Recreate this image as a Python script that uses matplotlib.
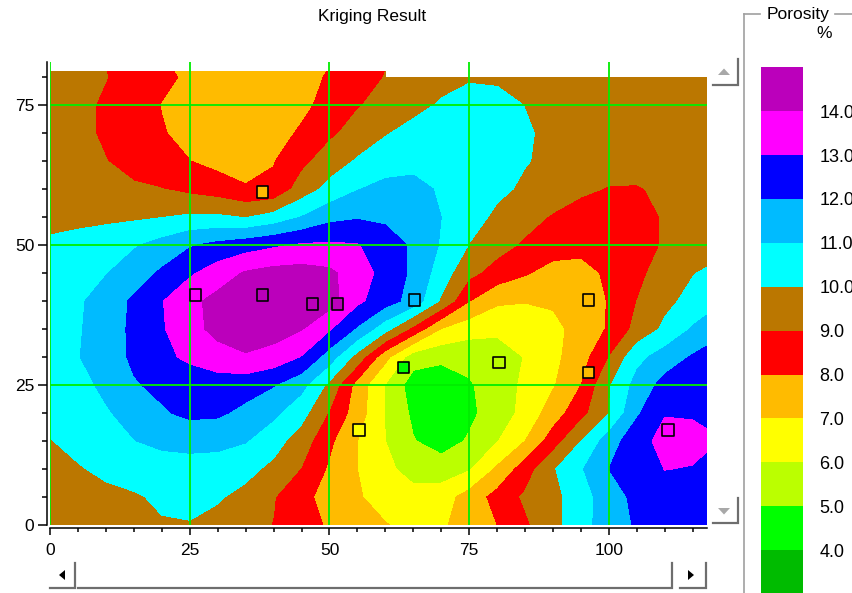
import numpy as np
import matplotlib
matplotlib.use("Agg")
import matplotlib.pyplot as plt
from matplotlib.colors import ListedColormap, BoundaryNorm
from matplotlib.cm import ScalarMappable
from matplotlib.patches import Polygon
from matplotlib.ticker import FixedLocator, FormatStrFormatter

plt.rcParams['font.family'] = ['Liberation Sans', 'DejaVu Sans']

# ---------------- data ----------------
x_nodes = [0, 5, 10, 15, 20, 25, 30, 35, 40, 45, 50, 55, 60, 65, 70, 75,
           80, 85, 90, 95, 100, 105, 110, 115, 117.5]
y_nodes = [0, 5, 10, 15, 20, 25, 30, 35, 40, 45, 50, 55, 60, 65, 70, 75, 80, 81]

nan = np.nan
porosity_rows = [
    [9.1, 9.25, 9.5, 9.75, 9.92, 9.95, 9.7, 9.35, 8.97, 8.4, 7.88, 7.45, 7.05, 6.75, 6.85, 7.45, 8.0, 8.83, 9.7, 10.6, 11.55, 12.1, 12.3, 12.3, 12.35],
    [9.25, 9.45, 9.7, 9.9, 10.15, 10.25, 10.1, 9.7, 9.05, 8.3, 7.6, 7.1, 6.6, 6.35, 6.55, 7.4, 8.35, 9.15, 9.7, 10.55, 11.55, 12.25, 12.5, 12.4, 12.4],
    [9.45, 9.9, 10.25, 10.4, 10.5, 10.55, 10.5, 10.3, 9.75, 8.95, 7.85, 7.0, 6.25, 5.6, 5.45, 5.9, 7.15, 8.5, 9.9, 10.9, 12.0, 12.5, 13.02, 12.95, 12.75],
    [9.95, 10.35, 10.65, 10.97, 11.25, 11.35, 11.3, 11.05, 10.4, 9.5, 8.2, 7.0, 6.0, 5.05, 4.6, 5.1, 5.95, 7.0, 8.5, 10.0, 11.5, 12.65, 13.3, 13.3, 13.15],
    [10.3, 10.55, 10.9, 11.35, 11.9, 12.2, 12.15, 11.75, 11.2, 10.35, 8.9, 7.5, 5.95, 4.8, 4.5, 4.8, 5.45, 6.3, 7.5, 8.65, 10.0, 11.85, 12.95, 12.9, 12.8],
    [10.5, 10.7, 11.2, 11.92, 12.2, 12.4, 12.5, 12.4, 12.05, 11.3, 9.75, 7.6, 5.95, 4.5, 4.3, 4.9, 5.45, 6.2, 6.9, 8.0, 9.9, 11.35, 12.35, 12.65, 12.75],
    [10.75, 10.95, 11.55, 12.15, 12.75, 13.2, 13.6, 13.9, 13.6, 12.95, 11.5, 9.6, 7.3, 5.45, 5.25, 5.3, 5.4, 6.05, 6.75, 7.55, 9.0, 10.7, 11.45, 12.1, 12.35],
    [10.65, 10.9, 11.5, 12.2, 12.9, 13.65, 14.3, 14.55, 14.45, 14.05, 13.1, 11.85, 10.35, 8.7, 6.95, 6.4, 6.25, 6.35, 6.7, 7.4, 8.1, 9.3, 10.2, 11.1, 11.45],
    [10.6, 10.85, 11.45, 12.15, 12.95, 13.75, 14.3, 14.55, 14.6, 14.5, 14.4, 13.2, 12.45, 11.6, 9.85, 8.02, 7.15, 7.05, 7.15, 7.5, 8.05, 9.0, 9.75, 10.3, 10.55],
    [10.45, 10.7, 10.95, 11.5, 12.15, 12.85, 13.5, 14.1, 14.35, 14.4, 14.2, 13.5, 12.65, 11.8, 10.5, 9.25, 8.6, 8.1, 7.6, 7.6, 8.2, 8.8, 9.35, 9.95, 10.15],
    [10.25, 10.45, 10.65, 10.9, 11.35, 11.9, 12.25, 12.55, 12.85, 13.1, 13.15, 13.05, 12.5, 11.85, 10.9, 9.97, 9.35, 8.85, 8.5, 8.35, 8.3, 8.55, 9.1, 9.3, 9.4],
    [9.55, 9.65, 9.75, 9.85, 9.97, 10.15, 10.15, 9.95, 10.35, 11.02, 11.7, 11.9, 11.8, 11.5, 11.0, 10.4, 9.8, 9.35, 8.9, 8.5, 8.35, 8.55, 9.1, 9.3, 9.4],
    [9.3, 9.25, 9.2, 9.12, 9.02, 8.75, 8.5, 8.1, 8.2, 9.45, 10.3, 10.95, 11.3, 11.25, 10.9, 10.55, 10.2, 9.85, 9.55, 9.2, 8.93, 8.92, 9.2, 9.35, 9.4],
    [9.35, 9.2, 9.02, 8.7, 8.35, 8.01, 7.7, 7.55, 7.95, 8.73, 9.5, 10.1, 10.5, 10.75, 10.75, 10.6, 10.4, 10.05, 9.8, 9.6, 9.5, 9.45, 9.4, 9.4, 9.4],
    [9.4, 9.2, 8.88, 8.47, 8.06, 7.75, 7.5, 7.4, 7.6, 8.14, 8.8, 9.4, 9.93, 10.3, 10.5, 10.6, 10.4, 10.1, 9.8, 9.6, 9.5, 9.45, 9.4, 9.4, 9.4],
    [9.45, 9.25, 8.85, 8.41, 7.97, 7.65, 7.4, 7.25, 7.35, 7.75, 8.35, 8.92, 9.35, 9.72, 10.1, 10.35, 10.3, 9.98, 9.75, 9.55, 9.45, 9.4, 9.4, 9.4, 9.4],
    [9.4, 9.25, 9.03, 8.6, 8.2, 7.85, 7.55, 7.35, 7.4, 7.65, 8.1, 8.55, 9.03, 9.4, 9.7, 9.9, 9.85, 9.6, 9.45, 9.35, 9.3, 9.3, 9.3, 9.3, 9.3],
    [9.4, 9.25, 9.0, 8.55, 8.15, 7.8, 7.5, 7.3, 7.35, 7.6, 8.05, 8.5, 9.0, nan, nan, nan, nan, nan, nan, nan, nan, nan, nan, nan, nan],
]

class_bounds = [3, 4, 5, 6, 7, 8, 9, 10, 11, 12, 13, 14, 15]
class_colors = ['#00BB00', '#00FF00', '#BBFF00', '#FFFF00', '#FFBB00', '#FF0000',
                '#BB7700', '#00FFFF', '#00BBFF', '#0000FF', '#FF00FF', '#BB00BB']
colorbar_ticks = [4, 5, 6, 7, 8, 9, 10, 11, 12, 13, 14]

sample_x = [38, 26, 38, 47, 51.4, 65.2, 63.2, 80.3, 96.3, 96.3, 55.3, 110.6]
sample_y = [59.5, 41.1, 41.1, 39.5, 39.5, 40.2, 28.1, 29.0, 40.2, 27.2, 17.0, 17.0]
sample_val = [7.5, 13.6, 14.5, 14.4, 14.3, 11.5, 4.5, 5.5, 7.5, 7.5, 6.5, 13.5]

x_major = [0, 25, 50, 75, 100]
y_major = [0, 25, 50, 75]

# ---------------- figure ----------------
W, H = 853, 593
fig = plt.figure(figsize=(W / 100, H / 100), dpi=100)
fig.patch.set_facecolor('white')

def fx(px):
    return px / W

def fy(py):
    return 1 - py / H

ax_l, ax_r, ax_t, ax_b = 50, 706.8, 62, 525
ax = fig.add_axes([fx(ax_l), fy(ax_b), fx(ax_r - ax_l), (ax_b - ax_t) / H])

cmap = ListedColormap(class_colors)
norm = BoundaryNorm(class_bounds, cmap.N)

Z = np.ma.masked_invalid(np.array(porosity_rows, dtype=float))
levels = [0] + class_bounds[1:-1] + [30]
ax.contourf(x_nodes, y_nodes, Z, levels=levels, colors=class_colors,
            antialiased=False, corner_mask=False, zorder=1)

grid_c = '#00EE00'
for gx in x_major:
    ax.axvline(gx, color=grid_c, lw=1.3, zorder=3)
for gy in y_major[1:]:
    ax.axhline(gy, color=grid_c, lw=1.3, zorder=3)

ax.scatter(sample_x, sample_y, c=sample_val, cmap=cmap, norm=norm, marker='s',
           s=8.3 ** 2, edgecolors='black', linewidths=1.2, zorder=5)

ax.set_xlim(0, 117.5)
ax.set_ylim(0, (ax_b - ax_t) / 5.6)
for s in ['top', 'right']:
    ax.spines[s].set_visible(False)
for s in ['left', 'bottom']:
    ax.spines[s].set_position(('outward', 2.2))
    ax.spines[s].set_linewidth(1.1)
ax.set_facecolor('white')

ax.xaxis.set_major_locator(FixedLocator(x_major))
ax.xaxis.set_minor_locator(FixedLocator(list(range(0, 116, 5))))
ax.yaxis.set_major_locator(FixedLocator(y_major))
ax.yaxis.set_minor_locator(FixedLocator(list(range(0, 81, 5))))
ax.tick_params(axis='x', which='major', length=5, width=1.1, pad=5.5, labelsize=12.5)
ax.tick_params(axis='x', which='minor', length=3, width=1.1)
ax.tick_params(axis='y', which='major', length=6.5, width=1.1, pad=2.5, labelsize=12.5)
ax.tick_params(axis='y', which='minor', length=3.5, width=1.1)

# colour bar
cb_top = 67.3
band = 43.9
cb_h = band * (len(class_bounds) - 1)
cax = fig.add_axes([fx(760.7), fy(cb_top + cb_h), fx(42), cb_h / H])
sm = ScalarMappable(norm=norm, cmap=cmap)
cb = fig.colorbar(sm, cax=cax, boundaries=class_bounds, ticks=colorbar_ticks)
cb.outline.set_visible(False)
cb.ax.yaxis.set_major_formatter(FormatStrFormatter('%.1f'))
cb.ax.tick_params(length=0, pad=12, labelsize=13)
cb.ax.minorticks_off()

# texts
fig.text(fx(372), fy(16), 'Kriging Result', ha='center', va='center', fontsize=12.5)
fig.text(fx(830), fy(14), 'Porosity', ha='right', va='center', fontsize=12.5)
fig.text(fx(832), fy(34), '%', ha='right', va='center', fontsize=12.5)

# overlay for widget decorations (pixel coordinates)
ov = fig.add_axes([0, 0, 1, 1], zorder=10)
ov.set_xlim(0, W)
ov.set_ylim(H, 0)
ov.axis('off')
ov.patch.set_alpha(0)

frame_c = '#A0A0A0'
ov.plot([744.3, 744.3], [14, H], color=frame_c, lw=1.2)
ov.plot([744.3, 760], [14, 14], color=frame_c, lw=1.2)
ov.plot([835, W], [14, 14], color=frame_c, lw=1.2)

sb_c = '#6E6E6E'
def shadow(x0, x1, y0, y1):
    ov.plot([x1, x1, x0], [y0, y1, y1], color=sb_c, lw=1.6, solid_joinstyle='miter')

# vertical scrollbar buttons
shadow(713, 738, 59, 85)
ov.add_patch(Polygon([(718, 75), (730, 75), (724, 68.5)], closed=True, color='#A8A8A8', lw=0))
shadow(713, 738, 498, 523)
ov.add_patch(Polygon([(718, 508), (730, 508), (724, 514.5)], closed=True, color='#A8A8A8', lw=0))
# horizontal scrollbar
shadow(50, 75, 563, 588)
ov.add_patch(Polygon([(65, 570), (65, 580), (59, 575)], closed=True, color='black', lw=0))
shadow(78, 672, 563, 588)
shadow(680, 706, 563, 588)
ov.add_patch(Polygon([(688, 570), (688, 580), (694, 575)], closed=True, color='black', lw=0))

fig.savefig('out.png', dpi=100)
